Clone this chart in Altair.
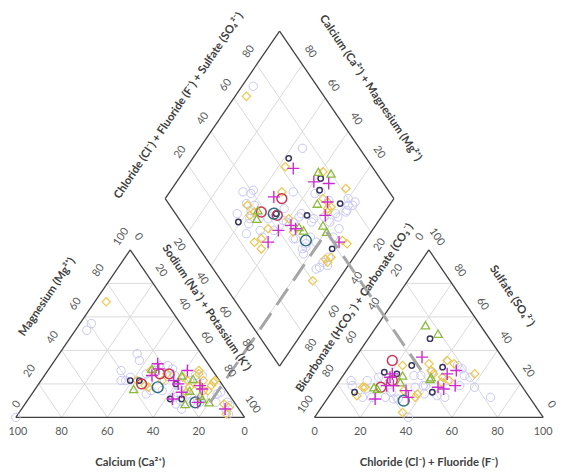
import altair as alt
import pandas as pd

# ---------------- values ----------------
TICKS = [0, 20, 40, 60, 80, 100]
GRID = [20, 40, 60, 80]

# Cation triangle: (Calcium %, Magnesium %)  -> Na+K = 100 - Ca - Mg
lav_cat = [(43,52),(39,56),(28,38),(29,34),(40,28),(43,22),(41,22),(38,24),(30,26),(31,22),(36,14),(33,16),
           (28,16),(18,31),(17,29),(18,25),(24,22),(20,19),(22,15),(23,10),(18,14),(19,9),(15,9),(12,12),(8,9),
           (5,14),(16,21),(9,25),(6,25),(3,15),(3,9),(3,7),(25,28),(22,31),(20,25),(13,22),(15,11),(25,12),
           (100,0),(26,8),(25,5),(6,4),(6,2)]
gold_cat = [(26,69),(27,28),(36,22),(34,19),(33,18),(25,22),(21,26),(15,24),(14,22),(15,18),(11,19),(7,26),
            (6,28),(7,22),(5,19),(2,22),(5,8),(4,6),(7,2),(10,16),(8,16),(18,15),(3,21)]
green_cat = [(26,29),(40,17),(15,25),(11,23),(16,16),(22,8),(13,11),(13,13),(11,9)]
mag_cat = [(22,32),(23,29),(28,25),(11,28),(20,22),(19,20),(10,19),(10,17),(20,15),(26,11),(16,9),(6,5)]
navy_cat = [(39,22),(35,22),(27,11),(22,11),(20,20)]
crim_cat = [(24,26),(20,26),(35,20)]
teal_cat = [(29,18),(17,9)]

# Anion triangle: (Chloride+Fluoride %, Sulfate %) -> HCO3+CO3 = 100 - Cl - SO4
lav_an = [(41,0),(61,18),(71,12),(47,31),(50,29),(53,25),(56,24),(54,19),(51,12),(47,13),(41,14),(35,18),
          (31,11),(29,11),(25,12),(19,12),(14,17),(12,22),(16,24),(31,25),(34,25),(26,15),(15,12),(7,19),
          (38,27),(39,19),(47,22),(38,19),(5,22)]
gold_an = [(23,31),(34,32),(41,34),(45,32),(57,26),(31,16),(38,14),(12,18),(13,18),(12,13),(37,3),(37,28),
           (39,26),(44,24),(48,22),(45,21),(38,12)]
green_an = [(21,55),(29,50),(26,25),(27,21),(17,18),(19,17),(39,23),(39,24)]
mag_an = [(29,36),(21,26),(21,24),(22,19),(25,19),(32,16),(35,12),(21,11),(45,26),(48,28),(45,18),(48,17),(52,19)]
navy_an = [(27,47),(27,31),(17,27),(23,26),(10,15),(44,15),(41,30)]
crim_an = [(17,34),(23,22),(20,18)]
teal_an = [(34,10)]

# Diamond: (Ca+Mg %, Cl+F+SO4 %)
lav_dia = [(95,72),(55,75),(64,41),(64,39),(68,36),(63,34),(64,27),(59,34),(53,35),(49,39),(48,44),(45,49),
           (46,58),(29,57),(36,53),(49,32),(43,38),(31,45),(25,45),(25,48),(15,67),(21,70),(17,75),(18,78),
           (16,82),(36,67),(34,70),(20,80),(28,71),(19,70),(25,64),(21,65),(54,25),(46,31),(40,46),(37,49),
           (59,37),(32,44),(57,31),(56,29),(42,45),(36,55),(24,47),(23,44),(25,52),(12,47),(9,51),(11,54),
           (12,50),(21,53),(29,59),(15,62),(16,80),(17,76),(13,45)]
gold_dia = [(95,66),(57,62),(39,77),(24,82),(51,53),(62,34),(57,35),(46,36),(40,48),(31,69),(28,70),(26,68),
            (25,67),(25,70),(48,26),(43,27),(34,46),(12,52),(10,52),(10,55),(11,40),(7,66),(10,65),(46,30),(58,32)]
green_dia = [(41,75),(35,80),(32,65),(23,61),(56,37),(54,34),(33,50),(30,51),(19.5,60.7)]
mag_dia = [(53,65),(40,70),(33,76),(28,70),(25,65),(53,48),(41,40),(37,47),(34,48),(42,32),(11,63)]
navy_dia = [(58,66),(38,74),(35,70),(22,75),(61,25),(47,44),(33,57),(12,58)]
crim_dia = [(49,51),(54,38),(46,44)]
teal_dia = [(48,43),(26,49)]

# sample whose projection lines are drawn (Ca, Mg, Cl, SO4)
proj_sample = dict(ca=10.7, mg=8.8, cl=32.5, so4=28.2)

# ---------------- geometry (diagram units) ----------------
G = 30.6          # gap between triangles
PX_X = 2.32       # pixels per x unit
PX_Y = 1.7        # pixels per y unit


def cat_xy(ca, mg):
    na = 100 - ca - mg
    return na + mg / 2, mg


def an_xy(cl, so4):
    return 100 + G + cl + so4 / 2, so4


def dia_xy(c, s):
    return 100 + G / 2 + s / 2 - c / 2, G + s + c


def off(p, dx, dy):
    return p[0] + dx / PX_X, p[1] - dy / PX_Y


# segments
segs = []
def seg(a, b, kind):
    segs.append(dict(x=a[0], y=a[1], x2=b[0], y2=b[1], kind=kind))

for v in GRID:
    seg(cat_xy(100 - v, v), cat_xy(0, v), "grid")
    seg(cat_xy(v, 0), cat_xy(v, 100 - v), "grid")
    seg(cat_xy(100 - v, 0), cat_xy(0, 100 - v), "grid")
    seg(an_xy(0, v), an_xy(100 - v, v), "grid")
    seg(an_xy(v, 0), an_xy(v, 100 - v), "grid")
    seg(an_xy(100 - v, 0), an_xy(0, 100 - v), "grid")
    seg(dia_xy(v, 0), dia_xy(v, 100), "grid")
    seg(dia_xy(0, v), dia_xy(100, v), "grid")

for a, b in [((100, 0), (0, 0)), ((0, 0), (0, 100)), ((0, 100), (100, 0))]:
    seg(cat_xy(*a), cat_xy(*b), "frame")
for a, b in [((0, 0), (100, 0)), ((100, 0), (0, 100)), ((0, 100), (0, 0))]:
    seg(an_xy(*a), an_xy(*b), "frame")
for a, b in [((0, 0), (100, 0)), ((100, 0), (100, 100)), ((100, 100), (0, 100)), ((0, 100), (0, 0))]:
    seg(dia_xy(*a), dia_xy(*b), "frame")

ps = proj_sample
pd_ = dia_xy(ps["ca"] + ps["mg"], ps["cl"] + ps["so4"])
seg(cat_xy(ps["ca"], ps["mg"]), pd_, "proj")
seg(an_xy(ps["cl"], ps["so4"]), pd_, "proj")
seg_df = pd.DataFrame(segs)

# page-pixel helpers (chart starts 8px in from the page corner)
W, H = 559, 465
X0 = -8 / PX_X            # x unit at left edge of the view
Y1 = 412 / PX_Y           # y unit at top edge of the view

# tick labels
labels = []
def lab(p, txt, ang):
    half = 9 if ang else 3 * len(str(txt)) + 1   # keep labels inside the view
    labels.append(dict(x=max(p[0], X0 + half / PX_X), y=p[1], t=str(txt), a=ang))

for v in TICKS:
    lab(off(cat_xy(v, 0), 0, 15), v, 0)
    lab(off(cat_xy(100 - v, v), -9, -13), v, 304)
    lab(off(cat_xy(0, 100 - v), 8, -13), v, 56)
    lab(off(an_xy(v, 0), 0, 15), v, 0)
    lab(off(an_xy(0, 100 - v), -9, -13), v, 304)
    lab(off(an_xy(100 - v, v), 8, -13), v, 56)
for v in GRID:
    lab(off(dia_xy(100, v), -8, -13), v, 304)
    lab(off(dia_xy(v, 100), 8, -13), v, 56)
    lab(off(dia_xy(100 - v, 0), -9, 13), v, 56)
    lab(off(dia_xy(0, 100 - v), 9, 13), v, 304)
lab_df = pd.DataFrame(labels)

# titles
def mid(a, b):
    return (a[0] + b[0]) / 2, (a[1] + b[1]) / 2

titles = [
    (off(mid(cat_xy(100, 0), cat_xy(0, 0)), 0, 46), "Calcium (Ca²⁺)", 0),
    (off(mid(cat_xy(100, 0), cat_xy(0, 100)), -26, -37), "Magnesium (Mg²⁺)", 304),
    (off(mid(cat_xy(0, 0), cat_xy(0, 100)), 19, -26), "Sodium (Na⁺) + Potassium (K⁺)", 56),
    (off(mid(an_xy(0, 0), an_xy(100, 0)), 0, 46), "Chloride  (Cl⁻) + Fluoride (F⁻)", 0),
    (off(mid(an_xy(100, 0), an_xy(0, 100)), 26, -38), "Sulfate (SO₄²⁻)", 56),
    (off(mid(an_xy(0, 0), an_xy(0, 100)), -17, -26), "Bicarbonate (HCO₃⁻) + Carbonate (CO₃⁻)", 304),
    (off(mid(dia_xy(100, 0), dia_xy(100, 100)), -44, -9), "Chloride (Cl⁻) + Fluoride (F⁻) + Sulfate (SO₄²⁻)", 304),
    (off(mid(dia_xy(100, 100), dia_xy(0, 100)), 34, -27), "Calcium (Ca²⁺) + Magnesium (Mg²⁺)", 56),
]
tit_df = pd.DataFrame([dict(x=p[0], y=p[1], t=t, a=a) for p, t, a in titles])

# ---------------- chart ----------------
xs = alt.Scale(domain=[X0, X0 + W / PX_X], nice=False, zero=False)
ys = alt.Scale(domain=[Y1 - H / PX_Y, Y1], nice=False, zero=False)
X = alt.X("x:Q", scale=xs, axis=None)
Y = alt.Y("y:Q", scale=ys, axis=None)

base_seg = alt.Chart(seg_df)
grid = base_seg.transform_filter("datum.kind == 'grid'").mark_rule(color="#d9d9d9", strokeWidth=1).encode(
    X, Y, x2="x2:Q", y2="y2:Q")
frame = base_seg.transform_filter("datum.kind == 'frame'").mark_rule(color="#404040", strokeWidth=1.3).encode(
    X, Y, x2="x2:Q", y2="y2:Q")
proj = base_seg.transform_filter("datum.kind == 'proj'").mark_rule(
    color="#a6a6a6", strokeWidth=3, strokeDash=[20, 10]).encode(X, Y, x2="x2:Q", y2="y2:Q")


def pts(cat, an, dia):
    rows = [cat_xy(a, b) for a, b in cat] + [an_xy(a, b) for a, b in an] + [dia_xy(a, b) for a, b in dia]
    return pd.DataFrame(rows, columns=["x", "y"])


PLUS = "M-1,0L1,0M0,-1L0,1"
series = [
    (lav_cat, lav_an, lav_dia, "circle", "#c6c6f4", 72, 1.0),
    (gold_cat, gold_an, gold_dia, "diamond", "#ecc64c", 72, 1.2),
    (navy_cat, navy_an, navy_dia, "circle", "#35355f", 30, 1.5),
    (crim_cat, crim_an, crim_dia, "circle", "#c8365a", 100, 1.5),
    (teal_cat, teal_an, teal_dia, "circle", "#2f6e7c", 120, 1.5),
    (green_cat, green_an, green_dia, "triangle-up", "#8cba3c", 72, 1.3),
    (mag_cat, mag_an, mag_dia, PLUS, "#cc2ccc", 150, 1.4),
]
point_layers = [
    alt.Chart(pts(c, a, d)).mark_point(shape=sh, filled=False, color=col, size=sz,
                                       strokeWidth=sw, opacity=1).encode(X, Y)
    for c, a, d, sh, col, sz, sw in series
]

ticks = alt.Chart(lab_df).mark_text(font="Lato", fontSize=11, color="#595959",
                                     align="center", baseline="middle").encode(
    X, Y, text="t:N", angle=alt.Angle("a:Q", scale=None))
tits = alt.Chart(tit_df).mark_text(font="Lato", fontSize=11.5, fontWeight="bold", color="#404040",
                                    align="center", baseline="middle").encode(
    X, Y, text="t:N", angle=alt.Angle("a:Q", scale=None))

chart = alt.layer(grid, frame, *point_layers, proj, ticks, tits).properties(
    width=W, height=H, padding=0, autosize=alt.AutoSizeParams(type="none"),
    background="white"
).configure_view(stroke=None)

chart.save("out.html", embed_options={"renderer": "svg", "actions": False})
